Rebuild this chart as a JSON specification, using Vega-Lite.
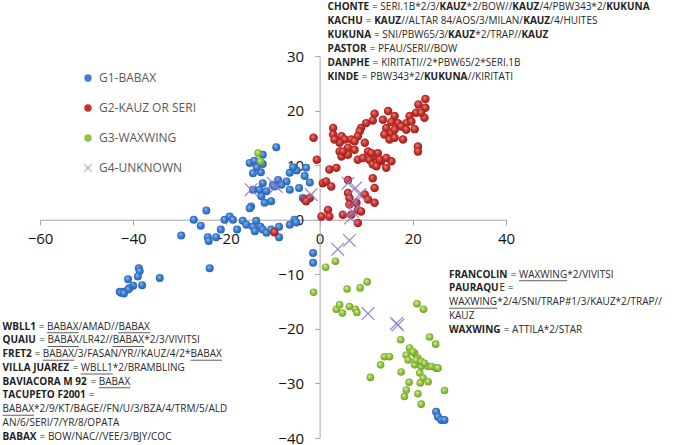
{
"$schema": "https://vega.github.io/schema/vega-lite/v6.json",
"width": 466, "height": 382,
"autosize": {"type": "none"},
"padding": {"left": 40, "top": 56, "right": 169, "bottom": 7},
"background": "white",
"config": {"view": {"stroke": null}, "font": "Open Sans"},
"datasets": {
"pts": [
{"g":"G1-BABAX","x":-9.3,"y":13.3},{"g":"G1-BABAX","x":-15.0,"y":10.4},{"g":"G1-BABAX","x":-14.0,"y":10.8},{"g":"G1-BABAX","x":-12.2,"y":11.9},{"g":"G1-BABAX","x":-14.3,"y":8.5},{"g":"G1-BABAX","x":-12.6,"y":8.7},{"g":"G1-BABAX","x":-13.5,"y":9.6},{"g":"G1-BABAX","x":-12.2,"y":10.2},
{"g":"G1-BABAX","x":-6.4,"y":8.6},{"g":"G1-BABAX","x":-4.9,"y":9.0},{"g":"G1-BABAX","x":-2.9,"y":9.5},{"g":"G1-BABAX","x":-3.2,"y":8.0},{"g":"G1-BABAX","x":-2.1,"y":6.8},{"g":"G1-BABAX","x":-5.7,"y":9.6},
{"g":"G1-BABAX","x":-7.1,"y":7.0},{"g":"G1-BABAX","x":-8.2,"y":6.4},{"g":"G1-BABAX","x":-8.9,"y":7.3},{"g":"G1-BABAX","x":-10.0,"y":6.4},{"g":"G1-BABAX","x":-9.7,"y":6.1},{"g":"G1-BABAX","x":-6.4,"y":5.5},{"g":"G1-BABAX","x":-4.4,"y":5.8},{"g":"G1-BABAX","x":-12.9,"y":5.5},{"g":"G1-BABAX","x":-14.3,"y":5.5},{"g":"G1-BABAX","x":-12.2,"y":6.7},{"g":"G1-BABAX","x":-11.4,"y":5.2},{"g":"G1-BABAX","x":-12.5,"y":4.3},{"g":"G1-BABAX","x":-10.4,"y":3.4},{"g":"G1-BABAX","x":-11.8,"y":3.1},{"g":"G1-BABAX","x":-14.7,"y":2.4},{"g":"G1-BABAX","x":-15.0,"y":2.1},{"g":"G1-BABAX","x":-3.6,"y":4.0},
{"g":"G1-BABAX","x":-24.3,"y":1.7},{"g":"G1-BABAX","x":-27.0,"y":0.0},{"g":"G1-BABAX","x":-25.5,"y":-1.1},{"g":"G1-BABAX","x":-29.7,"y":-2.9},{"g":"G1-BABAX","x":-24.0,"y":-3.2},{"g":"G1-BABAX","x":-23.8,"y":-3.9},{"g":"G1-BABAX","x":-22.2,"y":-3.2},{"g":"G1-BABAX","x":-21.2,"y":-1.8},{"g":"G1-BABAX","x":-20.4,"y":0.0},{"g":"G1-BABAX","x":-19.3,"y":0.6},{"g":"G1-BABAX","x":-18.6,"y":0.0},{"g":"G1-BABAX","x":-17.7,"y":-1.8},{"g":"G1-BABAX","x":-16.5,"y":-0.2},{"g":"G1-BABAX","x":-15.7,"y":-0.9},{"g":"G1-BABAX","x":-14.3,"y":-1.3},{"g":"G1-BABAX","x":-13.6,"y":-0.2},{"g":"G1-BABAX","x":-13.9,"y":-2.1},{"g":"G1-BABAX","x":-12.7,"y":-1.3},{"g":"G1-BABAX","x":-12.2,"y":-1.8},{"g":"G1-BABAX","x":-11.4,"y":-2.4},{"g":"G1-BABAX","x":-10.4,"y":-1.8},{"g":"G1-BABAX","x":-8.7,"y":-1.3},{"g":"G1-BABAX","x":-8.7,"y":-3.2},{"g":"G1-BABAX","x":-6.4,"y":-0.9},{"g":"G1-BABAX","x":-5.4,"y":0.0},{"g":"G1-BABAX","x":-5.0,"y":-0.5},
{"g":"G1-BABAX","x":-23.6,"y":-8.9},{"g":"G1-BABAX","x":-1.4,"y":-6.1},{"g":"G1-BABAX","x":-1.4,"y":-7.9},
{"g":"G1-BABAX","x":-38.8,"y":-8.9},{"g":"G1-BABAX","x":-38.6,"y":-9.4},{"g":"G1-BABAX","x":-39.0,"y":-10.4},{"g":"G1-BABAX","x":-41.1,"y":-10.9},{"g":"G1-BABAX","x":-34.3,"y":-10.7},{"g":"G1-BABAX","x":-38.1,"y":-12.0},{"g":"G1-BABAX","x":-40.0,"y":-12.1},{"g":"G1-BABAX","x":-40.8,"y":-12.5},{"g":"G1-BABAX","x":-41.1,"y":-12.8},{"g":"G1-BABAX","x":-42.2,"y":-13.2},{"g":"G1-BABAX","x":-42.9,"y":-13.2},{"g":"G1-BABAX","x":-42.6,"y":-13.4},{"g":"G1-BABAX","x":-42.0,"y":-13.5},
{"g":"G1-BABAX","x":25.0,"y":-35.2},{"g":"G1-BABAX","x":25.4,"y":-36.1},{"g":"G1-BABAX","x":26.1,"y":-36.7},{"g":"G1-BABAX","x":26.8,"y":-36.7},
{"g":"G2-KAUZ OR SERI","x":-9.7,"y":-2.3},{"g":"G2-KAUZ OR SERI","x":-3.2,"y":3.7},{"g":"G2-KAUZ OR SERI","x":-2.1,"y":4.0},{"g":"G2-KAUZ OR SERI","x":-2.9,"y":3.4},{"g":"G2-KAUZ OR SERI","x":-1.3,"y":15.0},{"g":"G2-KAUZ OR SERI","x":-0.6,"y":11.0},{"g":"G2-KAUZ OR SERI","x":0.7,"y":6.7},
{"g":"G2-KAUZ OR SERI","x":22.7,"y":22.1},{"g":"G2-KAUZ OR SERI","x":21.2,"y":21.1},{"g":"G2-KAUZ OR SERI","x":22.7,"y":20.5},{"g":"G2-KAUZ OR SERI","x":20.7,"y":19.6},{"g":"G2-KAUZ OR SERI","x":22.5,"y":18.7},{"g":"G2-KAUZ OR SERI","x":19.3,"y":19.0},{"g":"G2-KAUZ OR SERI","x":18.6,"y":17.7},{"g":"G2-KAUZ OR SERI","x":20.4,"y":16.6},{"g":"G2-KAUZ OR SERI","x":14.7,"y":19.9},{"g":"G2-KAUZ OR SERI","x":16.1,"y":19.0},{"g":"G2-KAUZ OR SERI","x":16.8,"y":17.7},{"g":"G2-KAUZ OR SERI","x":17.5,"y":17.1},{"g":"G2-KAUZ OR SERI","x":11.8,"y":19.4},{"g":"G2-KAUZ OR SERI","x":11.4,"y":18.2},{"g":"G2-KAUZ OR SERI","x":13.6,"y":18.3},{"g":"G2-KAUZ OR SERI","x":15.4,"y":17.9},{"g":"G2-KAUZ OR SERI","x":14.3,"y":16.8},{"g":"G2-KAUZ OR SERI","x":10.0,"y":17.7},{"g":"G2-KAUZ OR SERI","x":8.9,"y":16.8},{"g":"G2-KAUZ OR SERI","x":8.6,"y":16.2},{"g":"G2-KAUZ OR SERI","x":13.9,"y":15.6},{"g":"G2-KAUZ OR SERI","x":15.4,"y":15.9},{"g":"G2-KAUZ OR SERI","x":15.0,"y":14.7},{"g":"G2-KAUZ OR SERI","x":16.1,"y":15.0},{"g":"G2-KAUZ OR SERI","x":17.9,"y":14.7},{"g":"G2-KAUZ OR SERI","x":21.1,"y":13.4},{"g":"G2-KAUZ OR SERI","x":21.1,"y":12.5},
{"g":"G2-KAUZ OR SERI","x":2.9,"y":16.8},{"g":"G2-KAUZ OR SERI","x":2.9,"y":15.6},{"g":"G2-KAUZ OR SERI","x":4.7,"y":15.3},{"g":"G2-KAUZ OR SERI","x":5.4,"y":14.7},{"g":"G2-KAUZ OR SERI","x":6.8,"y":14.7},{"g":"G2-KAUZ OR SERI","x":8.2,"y":15.3},{"g":"G2-KAUZ OR SERI","x":4.3,"y":14.1},{"g":"G2-KAUZ OR SERI","x":6.1,"y":13.2},{"g":"G2-KAUZ OR SERI","x":7.5,"y":12.8},{"g":"G2-KAUZ OR SERI","x":9.7,"y":14.1},{"g":"G2-KAUZ OR SERI","x":10.4,"y":12.5},{"g":"G2-KAUZ OR SERI","x":4.3,"y":12.5},{"g":"G2-KAUZ OR SERI","x":4.7,"y":11.6},{"g":"G2-KAUZ OR SERI","x":6.1,"y":11.9},{"g":"G2-KAUZ OR SERI","x":8.2,"y":11.0},{"g":"G2-KAUZ OR SERI","x":9.3,"y":11.3},{"g":"G2-KAUZ OR SERI","x":10.7,"y":11.0},{"g":"G2-KAUZ OR SERI","x":11.8,"y":11.6},{"g":"G2-KAUZ OR SERI","x":12.5,"y":12.2},{"g":"G2-KAUZ OR SERI","x":13.2,"y":10.7},{"g":"G2-KAUZ OR SERI","x":11.4,"y":10.1},{"g":"G2-KAUZ OR SERI","x":12.2,"y":9.8},{"g":"G2-KAUZ OR SERI","x":14.3,"y":9.5},{"g":"G2-KAUZ OR SERI","x":15.4,"y":10.7},
{"g":"G2-KAUZ OR SERI","x":2.1,"y":9.2},{"g":"G2-KAUZ OR SERI","x":3.6,"y":9.5},{"g":"G2-KAUZ OR SERI","x":1.4,"y":7.0},{"g":"G2-KAUZ OR SERI","x":2.5,"y":6.1},{"g":"G2-KAUZ OR SERI","x":6.1,"y":7.3},{"g":"G2-KAUZ OR SERI","x":11.4,"y":7.6},{"g":"G2-KAUZ OR SERI","x":11.8,"y":5.8},{"g":"G2-KAUZ OR SERI","x":6.1,"y":4.9},{"g":"G2-KAUZ OR SERI","x":6.4,"y":4.0},{"g":"G2-KAUZ OR SERI","x":9.7,"y":4.6},{"g":"G2-KAUZ OR SERI","x":10.4,"y":3.7},{"g":"G2-KAUZ OR SERI","x":11.8,"y":3.1},{"g":"G2-KAUZ OR SERI","x":6.4,"y":2.8},{"g":"G2-KAUZ OR SERI","x":7.9,"y":3.1},{"g":"G2-KAUZ OR SERI","x":8.2,"y":1.8},{"g":"G2-KAUZ OR SERI","x":8.9,"y":1.5},{"g":"G2-KAUZ OR SERI","x":1.8,"y":1.8},{"g":"G2-KAUZ OR SERI","x":0.4,"y":0.6},{"g":"G2-KAUZ OR SERI","x":2.1,"y":0.6},{"g":"G2-KAUZ OR SERI","x":5.0,"y":0.9},{"g":"G2-KAUZ OR SERI","x":6.8,"y":0.9},{"g":"G2-KAUZ OR SERI","x":8.2,"y":-0.6},
{"g":"G2-KAUZ OR SERI","x":3.2,"y":14.7},{"g":"G2-KAUZ OR SERI","x":7.5,"y":14.4},{"g":"G2-KAUZ OR SERI","x":5.0,"y":12.5},{"g":"G2-KAUZ OR SERI","x":12.9,"y":11.0},{"g":"G2-KAUZ OR SERI","x":14.3,"y":11.3},{"g":"G2-KAUZ OR SERI","x":11.1,"y":12.2},{"g":"G2-KAUZ OR SERI","x":16.1,"y":16.5},{"g":"G2-KAUZ OR SERI","x":18.6,"y":16.5},{"g":"G2-KAUZ OR SERI","x":19.7,"y":18.0},{"g":"G2-KAUZ OR SERI","x":21.8,"y":19.6},
{"g":"G3-WAXWING","x":-13.2,"y":12.2},{"g":"G3-WAXWING","x":-12.7,"y":10.7},{"g":"G3-WAXWING","x":3.4,"y":-7.6},{"g":"G3-WAXWING","x":1.3,"y":-8.7},{"g":"G3-WAXWING","x":-1.3,"y":-13.3},{"g":"G3-WAXWING","x":5.9,"y":-12.7},{"g":"G3-WAXWING","x":8.7,"y":-12.5},{"g":"G3-WAXWING","x":10.2,"y":-11.4},{"g":"G3-WAXWING","x":3.6,"y":-16.4},{"g":"G3-WAXWING","x":4.3,"y":-15.6},{"g":"G3-WAXWING","x":4.9,"y":-17.1},{"g":"G3-WAXWING","x":6.4,"y":-15.9},{"g":"G3-WAXWING","x":7.7,"y":-16.4},{"g":"G3-WAXWING","x":8.0,"y":-17.0},{"g":"G3-WAXWING","x":20.9,"y":-15.4},{"g":"G3-WAXWING","x":22.3,"y":-16.4},{"g":"G3-WAXWING","x":17.4,"y":-22.0},{"g":"G3-WAXWING","x":23.6,"y":-21.5},{"g":"G3-WAXWING","x":24.9,"y":-22.8},{"g":"G3-WAXWING","x":13.9,"y":-25.1},{"g":"G3-WAXWING","x":15.0,"y":-25.1},{"g":"G3-WAXWING","x":13.1,"y":-26.6},{"g":"G3-WAXWING","x":10.9,"y":-28.9},{"g":"G3-WAXWING","x":17.5,"y":-27.9},{"g":"G3-WAXWING","x":19.3,"y":-23.5},{"g":"G3-WAXWING","x":18.6,"y":-24.8},{"g":"G3-WAXWING","x":20.4,"y":-24.5},{"g":"G3-WAXWING","x":19.0,"y":-25.7},{"g":"G3-WAXWING","x":21.1,"y":-25.4},{"g":"G3-WAXWING","x":20.4,"y":-26.6},{"g":"G3-WAXWING","x":21.8,"y":-26.9},{"g":"G3-WAXWING","x":21.5,"y":-28.1},{"g":"G3-WAXWING","x":23.3,"y":-26.9},{"g":"G3-WAXWING","x":24.0,"y":-26.9},{"g":"G3-WAXWING","x":25.0,"y":-27.2},{"g":"G3-WAXWING","x":22.2,"y":-29.0},{"g":"G3-WAXWING","x":19.2,"y":-29.8},{"g":"G3-WAXWING","x":18.6,"y":-31.2},{"g":"G3-WAXWING","x":18.2,"y":-32.4},{"g":"G3-WAXWING","x":21.6,"y":-29.9},{"g":"G3-WAXWING","x":23.3,"y":-29.7},{"g":"G3-WAXWING","x":21.1,"y":-31.9},{"g":"G3-WAXWING","x":21.8,"y":-33.8},{"g":"G3-WAXWING","x":26.8,"y":-31.3},{"g":"G3-WAXWING","x":25.4,"y":-27.2},{"g":"G3-WAXWING","x":20.0,"y":-24.2},{"g":"G3-WAXWING","x":20.7,"y":-25.7},{"g":"G3-WAXWING","x":21.8,"y":-26.0},{"g":"G3-WAXWING","x":22.5,"y":-26.3},
{"g":"G4-UNKNOWN","x":-14.7,"y":5.5},{"g":"G4-UNKNOWN","x":-10.0,"y":6.7},{"g":"G4-UNKNOWN","x":-9.3,"y":6.1},{"g":"G4-UNKNOWN","x":-1.8,"y":4.6},{"g":"G4-UNKNOWN","x":6.1,"y":6.7},{"g":"G4-UNKNOWN","x":7.7,"y":5.8},{"g":"G4-UNKNOWN","x":8.6,"y":4.6},{"g":"G4-UNKNOWN","x":7.5,"y":3.1},{"g":"G4-UNKNOWN","x":7.1,"y":1.5},{"g":"G4-UNKNOWN","x":6.6,"y":0.3},{"g":"G4-UNKNOWN","x":3.9,"y":-5.4},{"g":"G4-UNKNOWN","x":6.4,"y":-3.8},{"g":"G4-UNKNOWN","x":10.4,"y":-17.2},{"g":"G4-UNKNOWN","x":16.5,"y":-19.0},{"g":"G4-UNKNOWN","x":16.8,"y":-19.3}
],
"txt": [
{"t":"CHONTE","b":1,"x":1.72,"y":38.94},{"t":"= SERI.1B*2/3/","b":0,"x":11.25,"y":38.94},{"t":"KAUZ","b":1,"x":25.73,"y":38.94},{"t":"*2/BOW//","b":0,"x":31.55,"y":38.94},{"t":"KAUZ","b":1,"x":41.36,"y":38.94},{"t":"/4/PBW343*2/","b":0,"x":47.18,"y":38.94},{"t":"KUKUNA","b":1,"x":61.49,"y":38.94},
{"t":"KACHU","b":1,"x":1.72,"y":36.38},{"t":"=","b":0,"x":9.93,"y":36.38},{"t":"KAUZ","b":1,"x":11.71,"y":36.38},{"t":"//ALTAR 84/AOS/3/MILAN/","b":0,"x":17.53,"y":36.38},{"t":"KAUZ","b":1,"x":43.7,"y":36.38},{"t":"/4/HUITES","b":0,"x":49.52,"y":36.38},
{"t":"KUKUNA","b":1,"x":1.72,"y":33.81},{"t":"= SNI/PBW65/3/","b":0,"x":11.68,"y":33.81},{"t":"KAUZ","b":1,"x":27.58,"y":33.81},{"t":"*2/TRAP//","b":0,"x":33.4,"y":33.81},{"t":"KAUZ","b":1,"x":43.32,"y":33.81},
{"t":"PASTOR","b":1,"x":1.72,"y":31.24},{"t":"= PFAU/SERI//BOW","b":0,"x":10.75,"y":31.24},
{"t":"DANPHE","b":1,"x":1.72,"y":28.68},{"t":"= KIRITATI//2*PBW65/2*SERI.1B","b":0,"x":11.42,"y":28.68},
{"t":"KINDE","b":1,"x":1.72,"y":26.11},{"t":"= PBW343*2/","b":0,"x":9.07,"y":26.11},{"t":"KUKUNA","b":1,"x":22.4,"y":26.11},{"t":"//KIRITATI","b":0,"x":31.8,"y":26.11},
{"t":"WBLL1","b":1,"x":-68.03,"y":-19.61},{"t":"=","b":0,"x":-60.26,"y":-19.61},{"t":"BABAX","b":0,"x":-58.48,"y":-19.61},{"t":"/AMAD//","b":0,"x":-51.74,"y":-19.61},{"t":"BABAX","b":0,"x":-43.16,"y":-19.61},
{"t":"QUAIU","b":1,"x":-68.03,"y":-22.13},{"t":"=","b":0,"x":-60.17,"y":-22.13},{"t":"BABAX","b":0,"x":-58.39,"y":-22.13},{"t":"/LR42//","b":0,"x":-51.65,"y":-22.13},{"t":"BABAX","b":0,"x":-44.38,"y":-22.13},{"t":"*2/3/VIVITSI","b":0,"x":-37.65,"y":-22.13},
{"t":"FRET2","b":1,"x":-68.03,"y":-24.65},{"t":"=","b":0,"x":-61.2,"y":-24.65},{"t":"BABAX","b":0,"x":-59.41,"y":-24.65},{"t":"/3/FASAN/YR//KAUZ/4/2*","b":0,"x":-52.68,"y":-24.65},{"t":"BABAX","b":0,"x":-27.7,"y":-24.65},
{"t":"VILLA JUAREZ","b":1,"x":-68.03,"y":-27.17},{"t":"=","b":0,"x":-53.03,"y":-27.17},{"t":"WBLL1","b":0,"x":-51.24,"y":-27.17},{"t":"*2/BRAMBLING","b":0,"x":-44.39,"y":-27.17},
{"t":"BAVIACORA M 92","b":1,"x":-68.03,"y":-29.69},{"t":"=","b":0,"x":-49.16,"y":-29.69},{"t":"BABAX","b":0,"x":-47.38,"y":-29.69},
{"t":"TACUPETO F2001","b":1,"x":-68.03,"y":-32.21},{"t":"=","b":0,"x":-49.53,"y":-32.21},
{"t":"BABAX","b":0,"x":-68.03,"y":-34.73},{"t":"*2/9/KT/BAGE//FN/U/3/BZA/4/TRM/5/ALD","b":0,"x":-61.29,"y":-34.73},
{"t":"AN/6/SERI/7/YR/8/OPATA","b":0,"x":-68.03,"y":-37.25},
{"t":"BABAX","b":1,"x":-68.03,"y":-39.77},{"t":"= BOW/NAC//VEE/3/BJY/COC","b":0,"x":-60.09,"y":-39.77},
{"t":"FRANCOLIN","b":1,"x":27.75,"y":-10.08},{"t":"=","b":0,"x":41.0,"y":-10.08},{"t":"WAXWING","b":0,"x":42.79,"y":-10.08},{"t":"*2/VIVITSI","b":0,"x":53.14,"y":-10.08},
{"t":"PAURAQU","b":1,"x":27.75,"y":-12.6},{"t":"E =","b":0,"x":38.6,"y":-12.6},
{"t":"WAXWING","b":0,"x":27.75,"y":-15.12},{"t":"*2/4/SNI/TRAP#1/3/KAUZ*2/TRAP//","b":0,"x":38.1,"y":-15.12},
{"t":"KAUZ","b":0,"x":27.75,"y":-17.64},
{"t":"WAXWING","b":1,"x":27.75,"y":-20.16},{"t":"= ATTILA*2/STAR","b":0,"x":39.52,"y":-20.16}
],
"ul": [
{"x":-58.48,"x2":-51.74,"y":-19.61},{"x":-43.16,"x2":-36.42,"y":-19.61},
{"x":-58.39,"x2":-51.65,"y":-22.13},{"x":-44.38,"x2":-37.65,"y":-22.13},
{"x":-59.41,"x2":-52.68,"y":-24.65},{"x":-27.7,"x2":-20.96,"y":-24.65},
{"x":-51.24,"x2":-44.39,"y":-27.17},
{"x":-47.38,"x2":-40.64,"y":-29.69},
{"x":-68.03,"x2":-61.29,"y":-34.73},
{"x":42.79,"x2":53.14,"y":-10.08},
{"x":27.75,"x2":38.1,"y":-15.12}
]
},
"data": {"name": "pts"},
"encoding": {
"x": {"field": "x", "type": "quantitative", "scale": {"domain": [-60, 40], "nice": false, "zero": false},
 "axis": {"title": null, "values": [-60, -40, -20, 0, 20, 40], "grid": false, "offset": -218.3, "domainColor": "#a6a6a6", "tickColor": "#a6a6a6", "tickSize": 5, "labelFontSize": 15, "labelColor": "#111", "labelPadding": 7, "labelFlush": false, "labelOverlap": false, "labelFont": "Open Sans"}},
"y": {"field": "y", "type": "quantitative", "scale": {"domain": [-40, 30], "nice": false, "zero": false},
 "axis": {"title": null, "values": [-40, -30, -20, -10, 0, 10, 20, 30], "grid": false, "offset": -279.6, "domainColor": "#a6a6a6", "tickColor": "#a6a6a6", "tickSize": 5, "labelFontSize": 15, "labelColor": "#111", "labelPadding": 11, "labelFlush": false, "labelOverlap": false, "labelFont": "Open Sans"}}
},
"layer": [
{"mark": {"type": "point", "filled": true, "opacity": 0, "size": 50},
 "encoding": {
  "color": {"field": "g", "type": "nominal", "scale": {"domain": ["G1-BABAX", "G2-KAUZ OR SERI", "G3-WAXWING", "G4-UNKNOWN"], "range": ["#3d7fd3", "#c4302c", "#8fc43f", "#8e7cc3"]},
   "legend": {"orient": "none", "legendX": 42, "legendY": 16, "title": null, "labelFontSize": 12, "labelColor": "#595959", "labelFont": "Open Sans", "symbolSize": 55, "symbolOpacity": 1, "rowPadding": 16, "labelOffset": 5}},
  "shape": {"field": "g", "type": "nominal", "scale": {"domain": ["G1-BABAX", "G2-KAUZ OR SERI", "G3-WAXWING", "G4-UNKNOWN"], "range": ["circle", "circle", "circle", "M-0.93,-1.07L1.07,0.93L0.93,1.07L-1.07,-0.93ZM-0.93,1.07L-1.07,0.93L0.93,-1.07L1.07,-0.93Z"]},
   "legend": {"orient": "none", "legendX": 42, "legendY": 16, "title": null, "labelFontSize": 12, "labelColor": "#595959", "labelFont": "Open Sans", "symbolSize": 55, "symbolOpacity": 1, "rowPadding": 16, "labelOffset": 5}}
 }},
{"transform": [{"filter": "datum.g == 'G1-BABAX'"}],
 "mark": {"type": "point", "shape": "circle", "filled": true, "opacity": 1, "size": 64, "strokeWidth": 0,
  "fill": {"gradient": "radial", "x1": 0.38, "y1": 0.32, "r1": 0, "x2": 0.5, "y2": 0.5, "r2": 0.58,
   "stops": [{"offset": 0, "color": "#8fbef0"}, {"offset": 0.5, "color": "#3b7dd4"}, {"offset": 1, "color": "#24589f"}]}}},
{"transform": [{"filter": "datum.g == 'G2-KAUZ OR SERI'"}],
 "mark": {"type": "point", "shape": "circle", "filled": true, "opacity": 1, "size": 72, "strokeWidth": 0,
  "fill": {"gradient": "radial", "x1": 0.38, "y1": 0.32, "r1": 0, "x2": 0.5, "y2": 0.5, "r2": 0.58,
   "stops": [{"offset": 0, "color": "#ee8a82"}, {"offset": 0.5, "color": "#c9302b"}, {"offset": 1, "color": "#8a1a16"}]}}},
{"transform": [{"filter": "datum.g == 'G3-WAXWING'"}],
 "mark": {"type": "point", "shape": "circle", "filled": true, "opacity": 1, "size": 58, "strokeWidth": 0,
  "fill": {"gradient": "radial", "x1": 0.38, "y1": 0.32, "r1": 0, "x2": 0.5, "y2": 0.5, "r2": 0.58,
   "stops": [{"offset": 0, "color": "#ddf2a8"}, {"offset": 0.5, "color": "#93c540"}, {"offset": 1, "color": "#64951f"}]}}},
{"transform": [{"filter": "datum.g == 'G4-UNKNOWN'"}],
 "mark": {"type": "point", "shape": "M-0.93,-1.07L1.07,0.93L0.93,1.07L-1.07,-0.93ZM-0.93,1.07L-1.07,0.93L0.93,-1.07L1.07,-0.93Z", "filled": true, "opacity": 0.9, "size": 160, "color": "#8e7cc3", "strokeWidth": 0}},
{"data": {"name": "txt"}, "transform": [{"filter": "datum.b == 1"}],
 "mark": {"type": "text", "align": "left", "baseline": "middle", "fontSize": 10, "fontWeight": "bold", "color": "#1e1e1e", "font": "Open Sans"},
 "encoding": {"text": {"field": "t"}}},
{"data": {"name": "txt"}, "transform": [{"filter": "datum.b == 0"}],
 "mark": {"type": "text", "align": "left", "baseline": "middle", "fontSize": 10, "color": "#2a2a2a", "font": "Open Sans"},
 "encoding": {"text": {"field": "t"}}},
{"data": {"name": "ul"},
 "mark": {"type": "rule", "color": "#333", "strokeWidth": 0.8, "yOffset": 6},
 "encoding": {"x2": {"field": "x2"}}}
]
}
